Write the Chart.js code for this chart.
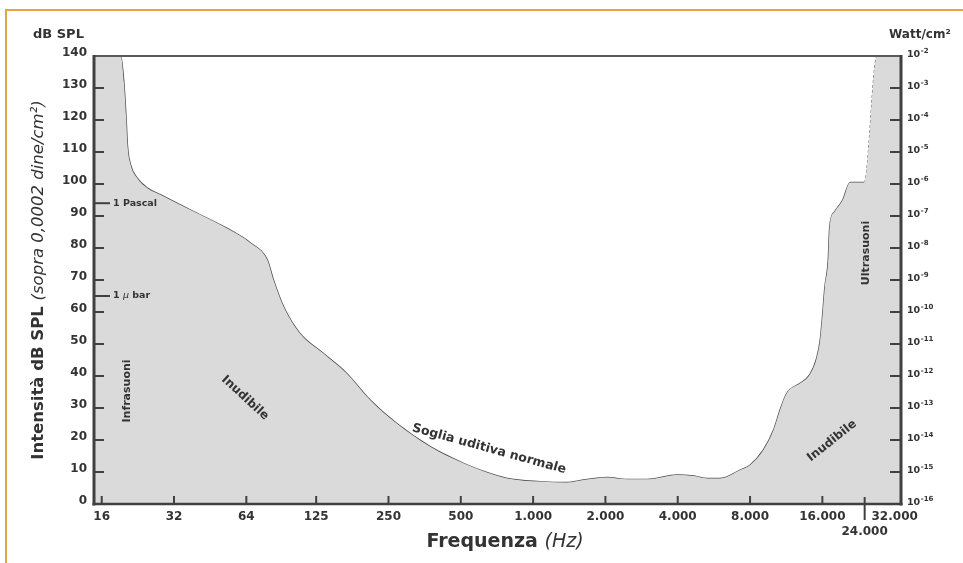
<!DOCTYPE html>
<html>
<head>
<meta charset="utf-8">
<script src="https://cdn.jsdelivr.net/npm/chart.js@4.4.1/dist/chart.umd.min.js"></script>
<style>
html, body { margin: 0; padding: 0; background: #fff; }
#wrap { position: relative; width: 963px; height: 563px; }
</style>
</head>
<body>
<div id="wrap"><canvas id="soglia"></canvas></div>
<script>
// soglia uditiva: frequenza (Hz) -> dB SPL
const freqHz = [14.86, 19.2, 19.8, 20.2, 20.5, 21.1, 22.5, 24.8, 28.2, 38.8, 53.3, 66.8, 78.3, 83, 91.4,
    107, 133.7, 167.5, 209.6, 270, 373, 513, 602, 780, 1067, 1379, 1618, 2030, 2460, 2980,
    3977, 4665, 5302, 6024, 7281, 8010, 9094, 10020, 10670, 11377, 12929, 14206, 15142, 15677,
    16060, 16390, 16920, 17160, 17980, 19450, 20900, 23900, 27010, 34000];
const thresholdDb = [140, 140, 131.5, 121, 111.7, 106, 101.8, 98.7, 96.6, 91.3, 86.1, 81.5, 76.2, 70, 61.7,
    53.3, 47.1, 40.8, 32.5, 25.2, 17.9, 12.7, 10.6, 8.0, 7.0, 6.7, 7.5, 8.3, 7.7, 7.7,
    9.1, 8.75, 8.0, 8.0, 10.6, 12.2, 16.9, 23.1, 29.4, 34.6, 37.7, 40.5, 45.5, 51.3,
    59.7, 67.8, 76, 86.5, 91.3, 95, 100.5, 100.5, 140, 140];
const dashFromHz = 23900;
const dashToHz = 27010;

const freqTicks = [16, 32, 64, 125, 250, 500, 1000, 2000, 4000, 8000, 16000, 24000, 32000];
const freqLabels = ["16", "32", "64", "125", "250", "500", "1.000", "2.000", "4.000", "8.000", "16.000", "24.000", "32.000"];
const dbTicks = [0, 10, 20, 30, 40, 50, 60, 70, 80, 90, 100, 110, 120, 130, 140];
const wattExponents = [-2, -3, -4, -5, -6, -7, -8, -9, -10, -11, -12, -13, -14, -15, -16];
const markerDb = [94, 65];

const FONT = '"DejaVu Sans", sans-serif';
const INK = "#333";

function line(ctx, x1, y1, x2, y2) {
    ctx.beginPath();
    ctx.moveTo(x1, y1);
    ctx.lineTo(x2, y2);
    ctx.stroke();
}

function richWidth(ctx, parts) {
    return parts.reduce((w, p) => { ctx.font = p.font; return w + ctx.measureText(p.text).width; }, 0);
}

function drawRich(ctx, parts, x, y) {
    parts.forEach((p) => {
        ctx.font = p.font;
        ctx.fillText(p.text, x, y);
        x += ctx.measureText(p.text).width;
    });
}

function rotText(ctx, text, cx, cy, deg, font) {
    ctx.save();
    ctx.translate(cx, cy);
    ctx.rotate(deg * Math.PI / 180);
    ctx.font = font;
    ctx.textAlign = "center";
    ctx.textBaseline = "middle";
    ctx.fillText(text, 0, 0);
    ctx.restore();
}

const decor = {
    id: "decor",
    beforeDraw(chart) {
        const ctx = chart.ctx;
        ctx.save();
        ctx.strokeStyle = "#e4a345";
        ctx.lineWidth = 2;
        ctx.beginPath();
        ctx.moveTo(6, 563);
        ctx.lineTo(6, 10);
        ctx.lineTo(963, 10);
        ctx.stroke();
        ctx.restore();
    },
    afterDraw(chart) {
        const ctx = chart.ctx;
        const { left, right, top, bottom } = chart.chartArea;
        const x = chart.scales.x, y = chart.scales.y, y2 = chart.scales.y2;
        ctx.save();

        // cornice del grafico
        ctx.strokeStyle = "#5a5a5a";
        ctx.lineWidth = 2;
        line(ctx, left, top, right, top);
        ctx.strokeStyle = "#404040";
        ctx.lineWidth = 3;
        line(ctx, left, top - 1, left, bottom + 1.5);
        line(ctx, right, top - 1, right, bottom + 1.5);
        ctx.lineWidth = 2.5;
        line(ctx, left - 1.5, bottom, right + 1.5, bottom);

        // tacche interne
        ctx.lineWidth = 2;
        dbTicks.forEach((v) => {
            if (v > 0 && v < 140) line(ctx, left, y.getPixelForValue(v), left + 10, y.getPixelForValue(v));
        });
        markerDb.forEach((v) => line(ctx, left, y.getPixelForValue(v), left + 16, y.getPixelForValue(v)));
        wattExponents.forEach((e) => {
            if (e > -16 && e < -2) line(ctx, right - 11, y2.getPixelForValue(e), right, y2.getPixelForValue(e));
        });
        freqTicks.forEach((f) => {
            const px = x.getPixelForValue(f);
            if (f === 32000) return;
            if (f === 24000) line(ctx, px, bottom - 7, px, bottom + 16);
            else line(ctx, px, bottom - 8, px, bottom);
        });

        ctx.fillStyle = INK;
        ctx.textAlign = "left";

        // etichette Watt/cm2
        ctx.textBaseline = "alphabetic";
        wattExponents.forEach((e) => {
            const py = y2.getPixelForValue(e) + 1;
            ctx.font = "bold 9.5px " + FONT;
            ctx.fillText("10", right + 6, py);
            const w = ctx.measureText("10").width;
            ctx.font = "bold 7px " + FONT;
            ctx.fillText("-" + Math.abs(e), right + 6.5 + w, py - 4.5);
        });

        ctx.font = "bold 13px " + FONT;
        ctx.fillText("dB SPL", 33, 38);
        ctx.font = "bold 12px " + FONT;
        ctx.fillText("Watt/cm\u00b2", 889, 38);

        // marcatori 1 Pascal / 1 µ bar
        ctx.textBaseline = "middle";
        ctx.font = "bold 9.5px " + FONT;
        ctx.fillText("1 Pascal", left + 19, y.getPixelForValue(markerDb[0]));
        drawRich(ctx, [
            { text: "1 ", font: "bold 9.5px " + FONT },
            { text: "\u03bc", font: "italic 9.5px " + FONT },
            { text: " bar", font: "bold 9.5px " + FONT }
        ], left + 19, y.getPixelForValue(markerDb[1]));

        // titoli degli assi
        ctx.textBaseline = "alphabetic";
        const xt = [
            { text: "Frequenza ", font: "bold 19px " + FONT },
            { text: "(Hz)", font: "italic 19px " + FONT }
        ];
        drawRich(ctx, xt, 505 - richWidth(ctx, xt) / 2, 547);

        const yt = [
            { text: "Intensit\u00e0 dB SPL ", font: "bold 16.5px " + FONT },
            { text: "(sopra 0,0002 dine/cm\u00b2)", font: "italic 16.5px " + FONT }
        ];
        ctx.save();
        ctx.translate(42.5, 280);
        ctx.rotate(-Math.PI / 2);
        drawRich(ctx, yt, -richWidth(ctx, yt) / 2, 0);
        ctx.restore();

        // scritte nel grafico
        rotText(ctx, "Infrasuoni", 127, 391, -90, "bold 11px " + FONT);
        rotText(ctx, "Inudibile", 245, 398, 42.7, "bold 12px " + FONT);
        rotText(ctx, "Soglia uditiva normale", 489, 449, 15.4, "bold 12.5px " + FONT);
        rotText(ctx, "Inudibile", 832, 441, -38.4, "bold 12px " + FONT);
        rotText(ctx, "Ultrasuoni", 866.5, 253, -90, "bold 11px " + FONT);

        ctx.restore();
    }
};

const points = freqHz.map((f, i) => ({ x: f, y: thresholdDb[i] }));
const inDash = (c) => c.p0.parsed.x >= dashFromHz && c.p1.parsed.x <= dashToHz;

new Chart(document.getElementById("soglia"), {
    type: "line",
    data: {
        datasets: [{
            // area grigia sotto la soglia
            data: points,
            borderWidth: 0,
            pointRadius: 0,
            fill: "origin",
            backgroundColor: "#dadada",
            cubicInterpolationMode: "monotone"
        }, {
            // curva della soglia (tratteggiata oltre 24.000 Hz)
            data: points,
            borderColor: "#4f4f4f",
            borderWidth: 1.4,
            pointRadius: 0,
            fill: false,
            cubicInterpolationMode: "monotone",
            segment: {
                borderDash: (c) => inDash(c) ? [3, 2] : undefined,
                borderWidth: (c) => inDash(c) ? 1 : undefined
            }
        }]
    },
    options: {
        responsive: true,
        maintainAspectRatio: false,
        animation: false,
        layout: { padding: { top: 56, left: 0, right: 0, bottom: 0 } },
        plugins: { legend: { display: false }, tooltip: { enabled: false } },
        scales: {
            x: {
                type: "logarithmic",
                min: 14.86,
                max: 34000,
                afterBuildTicks: (s) => { s.ticks = freqTicks.map((v) => ({ value: v })); },
                afterFit: (s) => { s.height = 59; },
                grid: { display: false, drawTicks: false },
                border: { display: false },
                ticks: {
                    autoSkip: false,
                    maxRotation: 0,
                    padding: 6,
                    color: INK,
                    font: { family: FONT, size: 12, weight: "bold" },
                    callback: (v) => {
                        const lbl = freqLabels[freqTicks.indexOf(v)];
                        return v === 24000 ? ["", lbl] : lbl;
                    }
                }
            },
            y: {
                type: "linear",
                position: "left",
                min: 0,
                max: 140,
                afterBuildTicks: (s) => { s.ticks = dbTicks.map((v) => ({ value: v })); },
                afterFit: (s) => { s.width = 94; },
                grid: { display: false, drawTicks: false },
                border: { display: false },
                ticks: {
                    padding: 7,
                    labelOffset: -3,
                    color: INK,
                    font: { family: FONT, size: 12, weight: "bold" }
                }
            },
            y2: {
                type: "linear",
                position: "right",
                min: -16,
                max: -2,
                afterFit: (s) => { s.width = 62; },
                grid: { display: false, drawTicks: false },
                border: { display: false },
                ticks: { display: false }
            }
        }
    },
    plugins: [decor]
});
</script>
</body>
</html>
